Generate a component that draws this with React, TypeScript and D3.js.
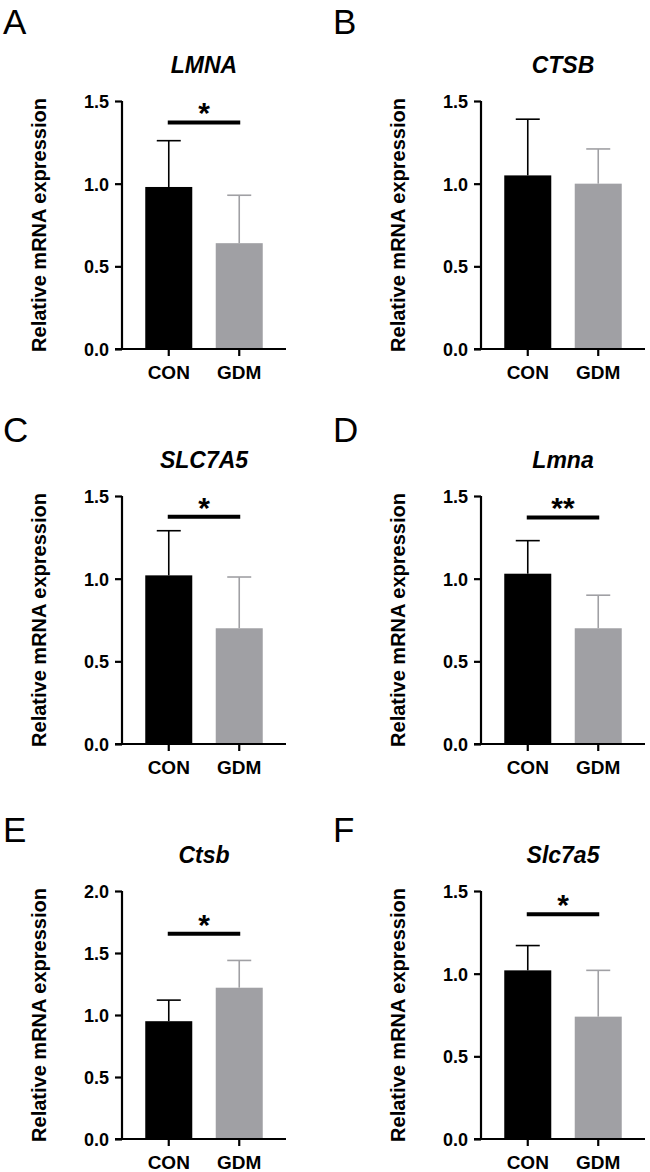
import React, { useRef, useEffect } from "react";
import * as d3 from "d3";

const groups = ["CON", "GDM"];
const panelLetters = ["A", "B", "C", "D", "E", "F"];
const genes = ["LMNA", "CTSB", "SLC7A5", "Lmna", "Ctsb", "Slc7a5"];

// mean and SD per panel, [CON, GDM]
const means = [
  [0.98, 0.64],
  [1.05, 1.0],
  [1.02, 0.7],
  [1.03, 0.7],
  [0.95, 1.22],
  [1.02, 0.74],
];
const sds = [
  [0.28, 0.29],
  [0.34, 0.21],
  [0.27, 0.31],
  [0.2, 0.2],
  [0.17, 0.22],
  [0.15, 0.28],
];
const yMaxes = [1.5, 1.5, 1.5, 1.5, 2.0, 1.5];
const sigLabels = ["*", "", "*", "**", "*", "*"];
const sigLevels = [1.37, 0, 1.375, 1.37, 1.655, 1.36];

const barColors = ["#000000", "#a0a0a4"];
const FONT = "Arial, 'Liberation Sans', Helvetica, sans-serif";

const colAxisX = [122, 481];
const rowOrigin = [349, 744, 1139];
const letterBaseline = [34, 442, 842];
const letterX = [3, 333];
const axisH = 248;
const axisW = 164;

function App() {
  const svgRef = useRef<SVGSVGElement>(null);

  useEffect(() => {
    if (!svgRef.current) return;
    const svg = d3.select(svgRef.current);
    svg.selectAll("*").remove();

    genes.forEach((gene, i) => {
      const col = i % 2;
      const row = Math.floor(i / 2);
      const x0 = colAxisX[col];
      const y0 = rowOrigin[row];

      const x = d3
        .scaleBand()
        .domain(groups)
        .range([x0, x0 + axisW])
        .paddingInner(0.333)
        .paddingOuter(0.33);

      const y = d3
        .scaleLinear()
        .domain([0, yMaxes[i]])
        .range([y0, y0 - axisH]);

      const g = svg.append("g");

      // panel letter
      g.append("text")
        .attr("x", letterX[col])
        .attr("y", letterBaseline[row])
        .attr("font-family", FONT)
        .attr("font-size", 35)
        .text(panelLetters[i]);

      // gene title
      g.append("text")
        .attr("x", x0 + axisW / 2)
        .attr("y", y0 - 276)
        .attr("text-anchor", "middle")
        .attr("font-family", FONT)
        .attr("font-size", 23)
        .attr("font-weight", "bold")
        .attr("font-style", "italic")
        .text(gene);

      // y-axis title
      g.append("text")
        .attr(
          "transform",
          `translate(${x0 - 76.5},${y0 - axisH / 2}) rotate(-90)`
        )
        .attr("text-anchor", "middle")
        .attr("font-family", FONT)
        .attr("font-size", 20)
        .attr("font-weight", "bold")
        .text("Relative mRNA expression");

      // bars
      g.selectAll("rect.bar")
        .data(groups)
        .enter()
        .append("rect")
        .attr("class", "bar")
        .attr("x", (d) => x(d)!)
        .attr("width", x.bandwidth())
        .attr("y", (_, j) => y(means[i][j]))
        .attr("height", (_, j) => y0 - y(means[i][j]))
        .attr("fill", (_, j) => barColors[j]);

      // error bars (upper only)
      groups.forEach((grp, j) => {
        const cx = x(grp)! + x.bandwidth() / 2;
        const top = y(means[i][j] + sds[i][j]);
        g.append("line")
          .attr("x1", cx)
          .attr("x2", cx)
          .attr("y1", y(means[i][j]))
          .attr("y2", top)
          .attr("stroke", barColors[j])
          .attr("stroke-width", 1.6);
        g.append("line")
          .attr("x1", cx - 12)
          .attr("x2", cx + 12)
          .attr("y1", top)
          .attr("y2", top)
          .attr("stroke", barColors[j])
          .attr("stroke-width", 1.6);
      });

      // y axis
      const yAxis = d3
        .axisLeft(y)
        .tickValues(d3.range(0, yMaxes[i] + 0.001, 0.5))
        .tickFormat(d3.format(".1f"))
        .tickSize(7)
        .tickSizeOuter(0)
        .tickPadding(6);
      const ya = g.append("g").attr("transform", `translate(${x0},0)`).call(yAxis);
      ya.select(".domain")
        .attr("stroke", "#000")
        .attr("stroke-width", 2.2)
        .attr("d", `M0,${y0 + 1}V${y0 - axisH}`);
      ya.selectAll(".tick line").attr("stroke", "#000").attr("stroke-width", 2.2);
      ya.selectAll(".tick text")
        .attr("font-family", FONT)
        .attr("font-size", 18)
        .attr("font-weight", "bold")
        .attr("fill", "#000")
        .attr("dy", "0.36em");

      // x axis
      const xAxis = d3.axisBottom(x).tickSize(7).tickSizeOuter(0).tickPadding(6);
      const xa = g.append("g").attr("transform", `translate(0,${y0})`).call(xAxis);
      xa.select(".domain")
        .attr("stroke", "#000")
        .attr("stroke-width", 2.2)
        .attr("d", `M${x0 - 7},0H${x0 + axisW}`);
      xa.selectAll(".tick line").attr("stroke", "#000").attr("stroke-width", 2.2);
      xa.selectAll(".tick text")
        .attr("font-family", FONT)
        .attr("font-size", 19)
        .attr("font-weight", "bold")
        .attr("fill", "#000")
        .attr("dy", "0.9em");

      // significance bracket
      if (sigLabels[i]) {
        const sy = y(sigLevels[i]);
        const xa1 = x("CON")! + x.bandwidth() / 2 - 1;
        const xa2 = x("GDM")! + x.bandwidth() / 2 + 1;
        g.append("line")
          .attr("x1", xa1)
          .attr("x2", xa2)
          .attr("y1", sy)
          .attr("y2", sy)
          .attr("stroke", "#000")
          .attr("stroke-width", 4);
        g.append("text")
          .attr("x", (xa1 + xa2) / 2)
          .attr("y", sy + 1)
          .attr("text-anchor", "middle")
          .attr("font-family", FONT)
          .attr("font-size", 30)
          .attr("font-weight", "bold")
          .text(sigLabels[i]);
      }
    });
  }, []);

  return (
    <svg
      ref={svgRef}
      width={650}
      height={1172}
      style={{ position: "absolute", left: 0, top: 0, background: "#fff" }}
    ></svg>
  );
}

export default App;
